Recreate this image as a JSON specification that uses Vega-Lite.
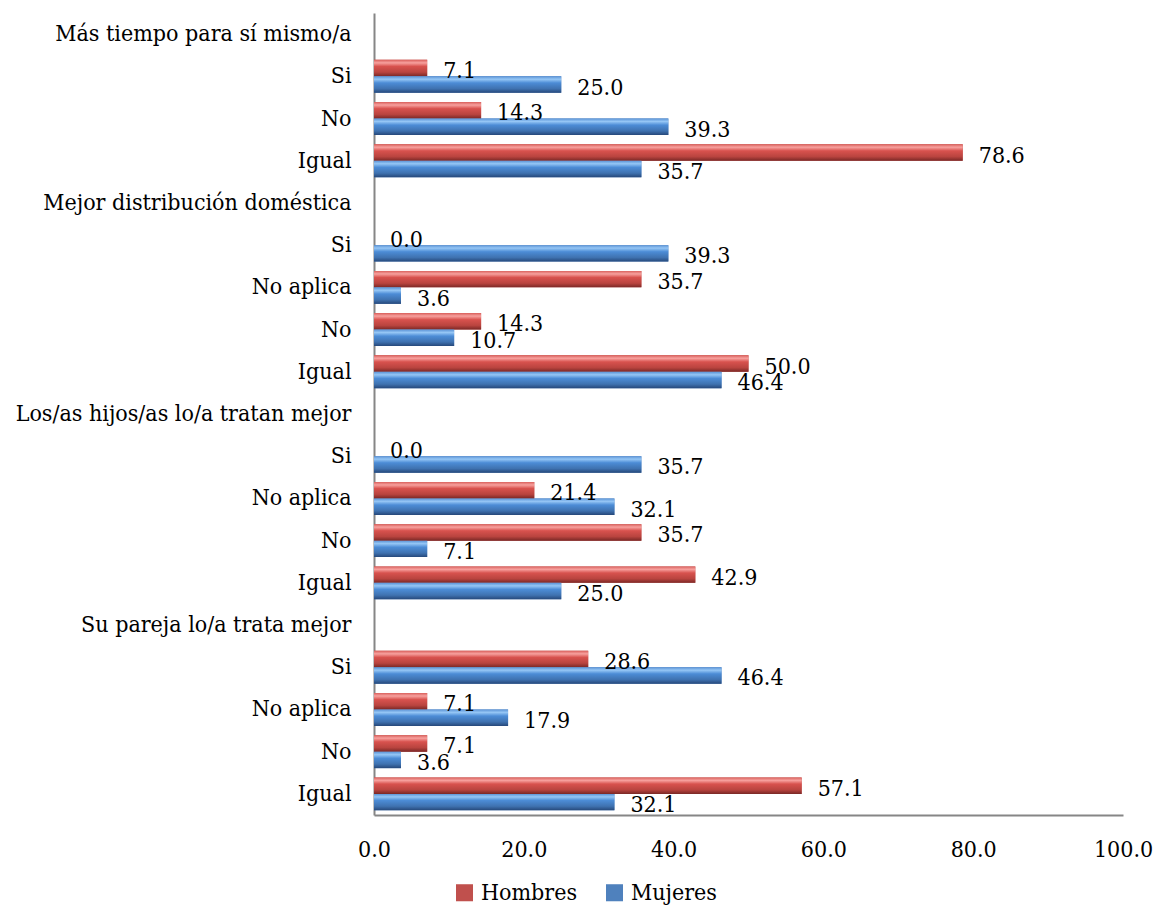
{
  "$schema": "https://vega.github.io/schema/vega-lite/v6.json",
  "width": 749,
  "height": 802,
  "autosize": {"type": "none"},
  "padding": {"left": 374, "top": 13, "right": 33, "bottom": 92},
  "config": {
    "view": {"stroke": null},
    "font": "DejaVu Serif Condensed",
    "axis": {"labelFont": "DejaVu Serif Condensed", "labelColor": "#000000", "domainColor": "#868686", "domainWidth": 2, "ticks": false, "grid": false, "title": null},
    "legend": {"labelFont": "DejaVu Serif Condensed", "labelColor": "#000000"}
  },
  "data": {
    "values": [
      {"key": "Más tiempo para sí mismo/a|Si", "sexo": "Hombres", "valor": 7.1},
      {"key": "Más tiempo para sí mismo/a|Si", "sexo": "Mujeres", "valor": 25.0},
      {"key": "Más tiempo para sí mismo/a|No\u00a0", "sexo": "Hombres", "valor": 14.3},
      {"key": "Más tiempo para sí mismo/a|No\u00a0", "sexo": "Mujeres", "valor": 39.3},
      {"key": "Más tiempo para sí mismo/a|Igual", "sexo": "Hombres", "valor": 78.6},
      {"key": "Más tiempo para sí mismo/a|Igual", "sexo": "Mujeres", "valor": 35.7},
      {"key": "Mejor distribución doméstica|Si", "sexo": "Hombres", "valor": 0.0},
      {"key": "Mejor distribución doméstica|Si", "sexo": "Mujeres", "valor": 39.3},
      {"key": "Mejor distribución doméstica|No aplica", "sexo": "Hombres", "valor": 35.7},
      {"key": "Mejor distribución doméstica|No aplica", "sexo": "Mujeres", "valor": 3.6},
      {"key": "Mejor distribución doméstica|No\u00a0", "sexo": "Hombres", "valor": 14.3},
      {"key": "Mejor distribución doméstica|No\u00a0", "sexo": "Mujeres", "valor": 10.7},
      {"key": "Mejor distribución doméstica|Igual", "sexo": "Hombres", "valor": 50.0},
      {"key": "Mejor distribución doméstica|Igual", "sexo": "Mujeres", "valor": 46.4},
      {"key": "Los/as hijos/as lo/a tratan mejor|Si", "sexo": "Hombres", "valor": 0.0},
      {"key": "Los/as hijos/as lo/a tratan mejor|Si", "sexo": "Mujeres", "valor": 35.7},
      {"key": "Los/as hijos/as lo/a tratan mejor|No aplica", "sexo": "Hombres", "valor": 21.4},
      {"key": "Los/as hijos/as lo/a tratan mejor|No aplica", "sexo": "Mujeres", "valor": 32.1},
      {"key": "Los/as hijos/as lo/a tratan mejor|No\u00a0", "sexo": "Hombres", "valor": 35.7},
      {"key": "Los/as hijos/as lo/a tratan mejor|No\u00a0", "sexo": "Mujeres", "valor": 7.1},
      {"key": "Los/as hijos/as lo/a tratan mejor|Igual", "sexo": "Hombres", "valor": 42.9},
      {"key": "Los/as hijos/as lo/a tratan mejor|Igual", "sexo": "Mujeres", "valor": 25.0},
      {"key": "Su pareja lo/a trata mejor|Si", "sexo": "Hombres", "valor": 28.6},
      {"key": "Su pareja lo/a trata mejor|Si", "sexo": "Mujeres", "valor": 46.4},
      {"key": "Su pareja lo/a trata mejor|No aplica", "sexo": "Hombres", "valor": 7.1},
      {"key": "Su pareja lo/a trata mejor|No aplica", "sexo": "Mujeres", "valor": 17.9},
      {"key": "Su pareja lo/a trata mejor|No\u00a0", "sexo": "Hombres", "valor": 7.1},
      {"key": "Su pareja lo/a trata mejor|No\u00a0", "sexo": "Mujeres", "valor": 3.6},
      {"key": "Su pareja lo/a trata mejor|Igual", "sexo": "Hombres", "valor": 57.1},
      {"key": "Su pareja lo/a trata mejor|Igual", "sexo": "Mujeres", "valor": 32.1}
    ]
  },
  "encoding": {
    "y": {
      "field": "key",
      "type": "nominal",
      "sort": null,
      "scale": {
        "domain": [
          "Más tiempo para sí mismo/a",
          "Más tiempo para sí mismo/a|Si",
          "Más tiempo para sí mismo/a|No\u00a0",
          "Más tiempo para sí mismo/a|Igual",
          "Mejor distribución doméstica",
          "Mejor distribución doméstica|Si",
          "Mejor distribución doméstica|No aplica",
          "Mejor distribución doméstica|No\u00a0",
          "Mejor distribución doméstica|Igual",
          "Los/as hijos/as lo/a tratan mejor",
          "Los/as hijos/as lo/a tratan mejor|Si",
          "Los/as hijos/as lo/a tratan mejor|No aplica",
          "Los/as hijos/as lo/a tratan mejor|No\u00a0",
          "Los/as hijos/as lo/a tratan mejor|Igual",
          "Su pareja lo/a trata mejor",
          "Su pareja lo/a trata mejor|Si",
          "Su pareja lo/a trata mejor|No aplica",
          "Su pareja lo/a trata mejor|No\u00a0",
          "Su pareja lo/a trata mejor|Igual"
        ],
        "paddingInner": 0.22,
        "paddingOuter": 0.11
      },
      "axis": {
        "labelExpr": "indexof(datum.value, '|') >= 0 ? split(datum.value, '|')[1] : datum.value",
        "labelFontSize": 23,
        "labelPadding": 23,
        "labelLimit": 400
      }
    },
    "yOffset": {"field": "sexo", "type": "nominal", "scale": {"domain": ["Hombres", "Mujeres"], "paddingInner": 0, "paddingOuter": 0}},
    "x": {
      "field": "valor",
      "type": "quantitative",
      "scale": {"domain": [0, 100], "nice": false, "zero": true},
      "axis": {"values": [0, 20, 40, 60, 80, 100], "format": ".1f", "labelFontSize": 23, "labelPadding": 23, "labelFlush": false}
    }
  },
  "layer": [
    {
      "mark": {"type": "bar"},
      "encoding": {
        "color": {
          "field": "sexo",
          "type": "nominal",
          "scale": {"domain": ["Hombres", "Mujeres"], "range": ["#c0504d", "#4f81bd"]},
          "legend": {
            "title": null,
            "orient": "none",
            "legendX": 79,
            "legendY": 868,
            "direction": "horizontal",
            "symbolType": "square",
            "symbolSize": 290,
            "symbolStrokeWidth": 0,
            "labelFontSize": 23,
            "labelOffset": 5,
            "columnPadding": 25,
            "padding": 0
          }
        }
      }
    },
    {
      "transform": [{"filter": "datum.sexo === 'Hombres'"}],
      "mark": {
        "type": "bar",
        "fill": {"gradient": "linear", "x1": 0, "y1": 0, "x2": 0, "y2": 1, "stops": [
          {"offset": 0, "color": "#d9605c"},
          {"offset": 0.18, "color": "#f7a19e"},
          {"offset": 0.4, "color": "#d8524e"},
          {"offset": 0.75, "color": "#b9443f"},
          {"offset": 1, "color": "#7a2826"}
        ]}
      }
    },
    {
      "transform": [{"filter": "datum.sexo === 'Mujeres'"}],
      "mark": {
        "type": "bar",
        "fill": {"gradient": "linear", "x1": 0, "y1": 0, "x2": 0, "y2": 1, "stops": [
          {"offset": 0, "color": "#5b93d6"},
          {"offset": 0.18, "color": "#95c6f5"},
          {"offset": 0.4, "color": "#4c8cd6"},
          {"offset": 0.75, "color": "#3f72b0"},
          {"offset": 1, "color": "#26487a"}
        ]}
      }
    },
    {
      "mark": {"type": "text", "align": "left", "baseline": "middle", "dx": 16, "dy": 3, "fontSize": 23, "font": "DejaVu Serif Condensed", "color": "#000000"},
      "encoding": {
        "text": {"field": "valor", "type": "quantitative", "format": ".1f"}
      }
    }
  ]
}
